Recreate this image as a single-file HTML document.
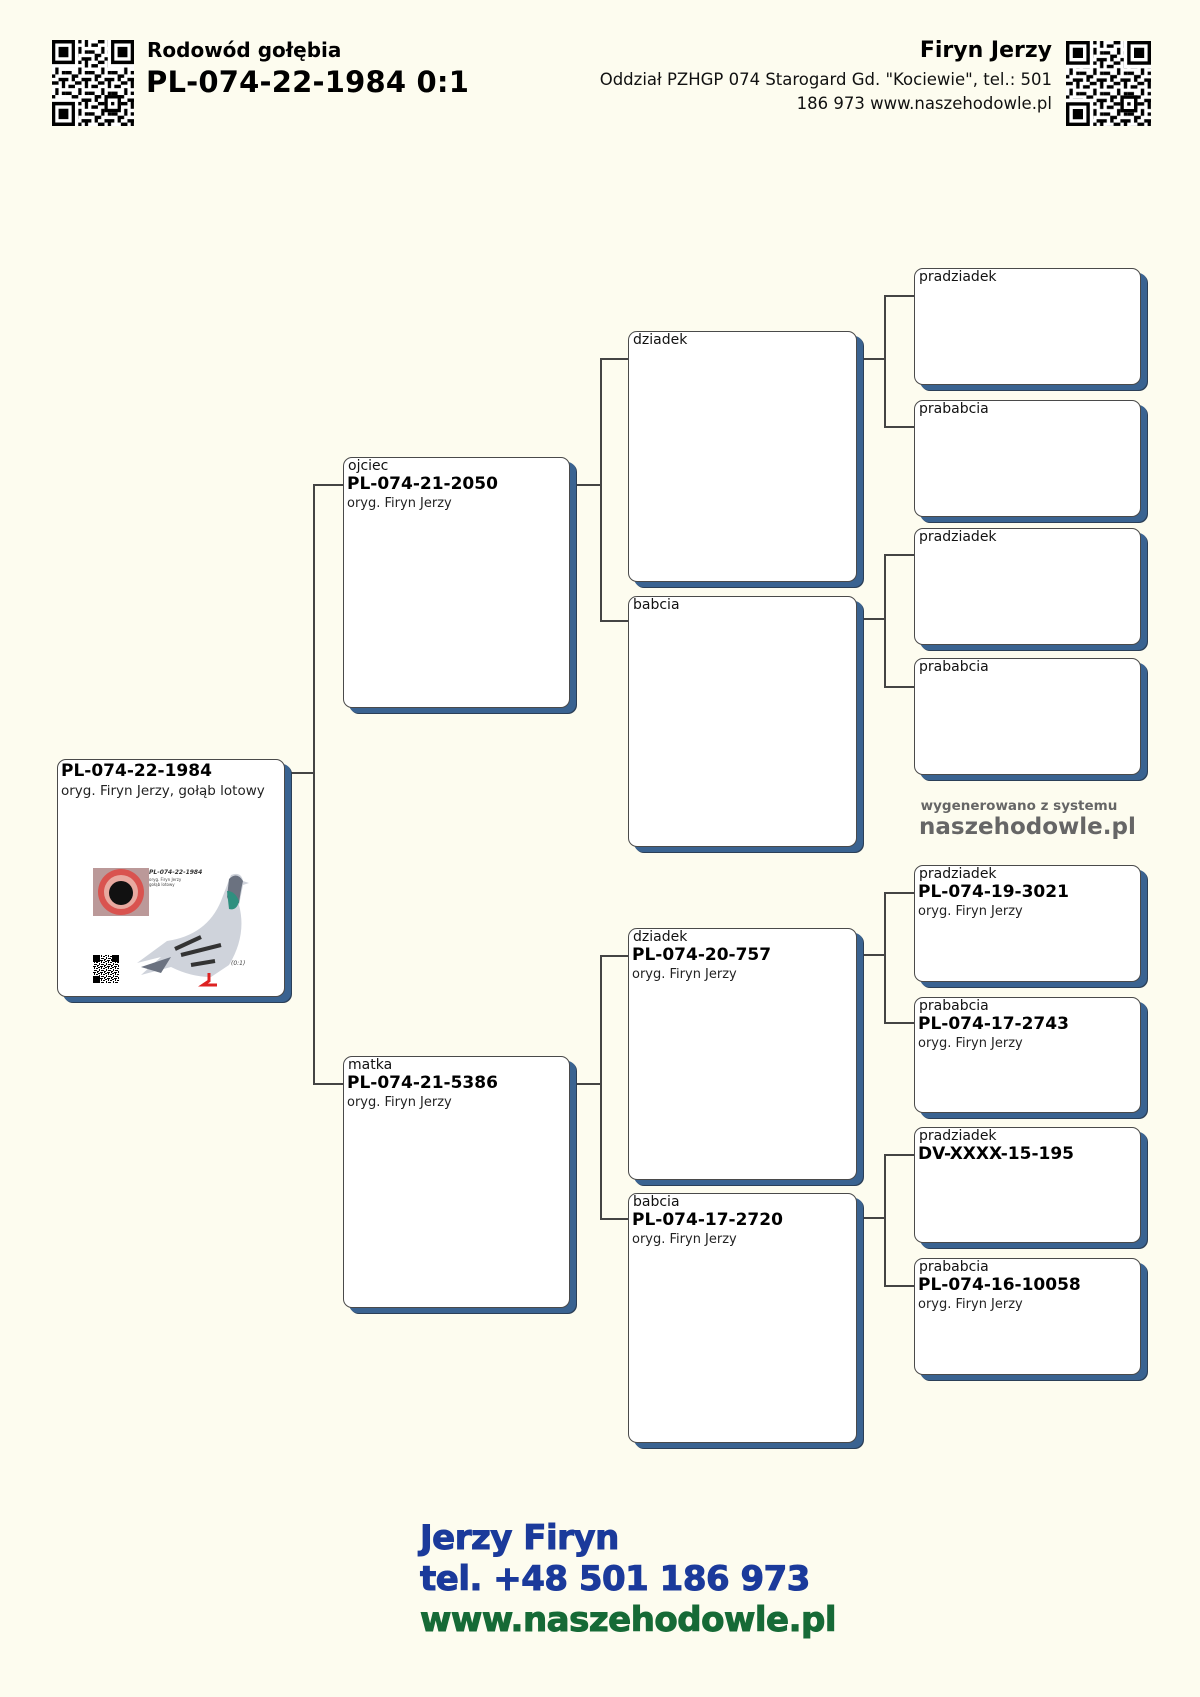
<!DOCTYPE html>
<html><head><meta charset="utf-8">
<style>
*{margin:0;padding:0;box-sizing:border-box}
body{width:1200px;height:1697px;background:#fdfcef;position:relative;overflow:hidden;font-family:"DejaVu Sans","Liberation Sans",sans-serif;color:#000}
.b{position:absolute;background:#fff;border:1.5px solid #4a4a4a;border-radius:9px;box-shadow:6px 5px 0 #3a6391,7px 6px 0 #2b3f57}
.l{position:absolute;background:#444}
.t{position:absolute;white-space:nowrap}
.lab{font-size:14px;line-height:15px;color:#111;padding-left:4px;padding-top:1px}
.id{font-size:17px;font-weight:bold;line-height:21px;padding-left:3px}
.or{font-size:13px;line-height:18px;color:#222;padding-left:3px}
</style></head><body>

<svg width="0" height="0" style="position:absolute">
<defs>
<pattern id="qp" width="7" height="6" patternUnits="userSpaceOnUse">
<rect x="0" y="0" width="2" height="1" fill="#000"/><rect x="3" y="0" width="1" height="2" fill="#000"/><rect x="5" y="1" width="2" height="1" fill="#000"/>
<rect x="1" y="2" width="1" height="2" fill="#000"/><rect x="4" y="3" width="2" height="1" fill="#000"/><rect x="0" y="4" width="1" height="1" fill="#000"/>
<rect x="2" y="5" width="3" height="1" fill="#000"/><rect x="6" y="4" width="1" height="2" fill="#000"/><rect x="3" y="3" width="1" height="1" fill="#000"/>
</pattern>
<g id="qr">
<rect x="0" y="0" width="25" height="25" fill="#fff"/>
<rect x="0" y="0" width="25" height="25" fill="url(#qp)"/>
<rect x="0" y="0" width="8" height="8" fill="#fff"/><rect x="17" y="0" width="8" height="8" fill="#fff"/><rect x="0" y="17" width="8" height="8" fill="#fff"/>
<path d="M0 0h7v7h-7zM1 1v5h5v-5zM2 2h3v3h-3z M18 0h7v7h-7zM19 1v5h5v-5zM20 2h3v3h-3z M0 18h7v7h-7zM1 19v5h5v-5zM2 20h3v3h-3z" fill="#000" fill-rule="evenodd"/>
<rect x="16" y="16" width="5" height="5" fill="#000"/><rect x="17" y="17" width="3" height="3" fill="#fff"/><rect x="18" y="18" width="1" height="1" fill="#000"/>
</g>
</defs></svg>

<!-- header -->
<svg style="position:absolute;left:52px;top:40px" width="82" height="86" viewBox="0 0 25 25" preserveAspectRatio="none"><use href="#qr"/></svg>
<div class="t" style="left:147px;top:38px;font-size:20px;font-weight:bold">Rodowód gołębia</div>
<div class="t" style="left:146px;top:65px;font-size:29px;font-weight:bold;letter-spacing:0.2px">PL-074-22-1984 0:1</div>

<div class="t" style="right:148px;top:38px;font-size:22px;font-weight:bold;text-align:right">Firyn Jerzy</div>
<div class="t" style="right:148px;top:68px;font-size:16.5px;line-height:24px;text-align:right;color:#111">Oddział PZHGP 074 Starogard Gd. "Kociewie", tel.: 501<br>186 973 www.naszehodowle.pl</div>
<svg style="position:absolute;left:1066px;top:41px" width="85" height="85" viewBox="0 0 25 25" preserveAspectRatio="none"><use href="#qr"/></svg>

<!-- connectors -->
<div class="l" style="left:285px;top:772px;width:29px;height:1.5px"></div>
<div class="l" style="left:313px;top:484px;width:1.5px;height:600px"></div>
<div class="l" style="left:313px;top:484px;width:30px;height:1.5px"></div>
<div class="l" style="left:313px;top:1083px;width:30px;height:1.5px"></div>

<div class="l" style="left:570px;top:484px;width:31px;height:1.5px"></div>
<div class="l" style="left:600px;top:358px;width:1.5px;height:263px"></div>
<div class="l" style="left:600px;top:358px;width:28px;height:1.5px"></div>
<div class="l" style="left:600px;top:620px;width:28px;height:1.5px"></div>
<div class="l" style="left:570px;top:1083px;width:31px;height:1.5px"></div>
<div class="l" style="left:600px;top:955px;width:1.5px;height:264px"></div>
<div class="l" style="left:600px;top:955px;width:28px;height:1.5px"></div>
<div class="l" style="left:600px;top:1218px;width:28px;height:1.5px"></div>

<div class="l" style="left:857px;top:358px;width:28px;height:1.5px"></div>
<div class="l" style="left:884px;top:295px;width:1.5px;height:132px"></div>
<div class="l" style="left:884px;top:295px;width:30px;height:1.5px"></div>
<div class="l" style="left:884px;top:426px;width:30px;height:1.5px"></div>
<div class="l" style="left:857px;top:618px;width:28px;height:1.5px"></div>
<div class="l" style="left:884px;top:554px;width:1.5px;height:133px"></div>
<div class="l" style="left:884px;top:554px;width:30px;height:1.5px"></div>
<div class="l" style="left:884px;top:686px;width:30px;height:1.5px"></div>
<div class="l" style="left:857px;top:954px;width:28px;height:1.5px"></div>
<div class="l" style="left:884px;top:892px;width:1.5px;height:131px"></div>
<div class="l" style="left:884px;top:892px;width:30px;height:1.5px"></div>
<div class="l" style="left:884px;top:1022px;width:30px;height:1.5px"></div>
<div class="l" style="left:857px;top:1217px;width:28px;height:1.5px"></div>
<div class="l" style="left:884px;top:1154px;width:1.5px;height:132px"></div>
<div class="l" style="left:884px;top:1154px;width:30px;height:1.5px"></div>
<div class="l" style="left:884px;top:1285px;width:30px;height:1.5px"></div>

<!-- main -->
<div class="b" style="left:57px;top:759px;width:228px;height:238px">
<div class="id" style="padding-top:1px">PL-074-22-1984</div>
<div class="or" style="font-size:13.5px">oryg. Firyn Jerzy, gołąb lotowy</div>
<svg style="position:absolute;left:33px;top:105px" width="164" height="124" viewBox="0 0 164 124">
<rect width="164" height="124" fill="#fff"/>
<rect x="2" y="3" width="56" height="48" fill="#b99"/>
<circle cx="30" cy="27" r="23" fill="#d9534f"/>
<circle cx="30" cy="27" r="17" fill="#e8a9a0"/>
<circle cx="30" cy="28" r="12" fill="#111"/>
<text x="58" y="9" font-size="6" font-style="italic" font-weight="bold" fill="#333" font-family="DejaVu Sans">PL-074-22-1984</text>
<text x="58" y="16" font-size="4" fill="#444" font-family="DejaVu Sans">oryg. Firyn Jerzy</text>
<text x="58" y="21" font-size="4" fill="#444" font-family="DejaVu Sans">gołąb lotowy</text>
<path d="M140 10 q10 -4 12 6 l6 2 -6 2 q-2 10 -4 20 q8 30 -10 60 l-18 12 q-20 0 -40 -10 l-30 8 l20 -18 l-24 6 l30 -22 q40 -6 54 -40 z" fill="#cfd3db"/>
<path d="M138 14 q8 -8 14 2 q-2 8 -4 22 q-8 4 -12 -6 z" fill="#6b7280"/>
<path d="M136 26 q8 0 12 10 q-2 10 -10 8 z" fill="#2f8f7f"/>
<path d="M90 90 l40 -10 M84 84 l26 -12 M100 100 l24 -4" stroke="#333" stroke-width="4"/>
<path d="M50 102 l30 -10 l-10 16 z" fill="#6b7280"/>
<path d="M118 108 v8 l-6 4 h14" stroke="#d22" stroke-width="3" fill="none"/>
<rect x="2" y="90" width="26" height="28" fill="url(#qp)"/>
<rect x="2" y="90" width="7" height="7" fill="#000"/><rect x="21" y="90" width="7" height="7" fill="#000"/><rect x="2" y="111" width="7" height="7" fill="#000"/>
<text x="140" y="100" font-size="6" font-style="italic" fill="#444" font-family="DejaVu Sans">(0:1)</text>
</svg>
</div>

<!-- gen1 -->
<div class="b" style="left:343px;top:457px;width:227px;height:251px"><div class="lab">ojciec</div><div class="id">PL-074-21-2050</div><div class="or">oryg. Firyn Jerzy</div></div>
<div class="b" style="left:343px;top:1056px;width:227px;height:252px"><div class="lab">matka</div><div class="id">PL-074-21-5386</div><div class="or">oryg. Firyn Jerzy</div></div>

<!-- gen2 -->
<div class="b" style="left:628px;top:331px;width:229px;height:251px"><div class="lab">dziadek</div></div>
<div class="b" style="left:628px;top:596px;width:229px;height:251px"><div class="lab">babcia</div></div>
<div class="b" style="left:628px;top:928px;width:229px;height:252px"><div class="lab">dziadek</div><div class="id">PL-074-20-757</div><div class="or">oryg. Firyn Jerzy</div></div>
<div class="b" style="left:628px;top:1193px;width:229px;height:250px"><div class="lab">babcia</div><div class="id">PL-074-17-2720</div><div class="or">oryg. Firyn Jerzy</div></div>

<!-- gen3 -->
<div class="b" style="left:914px;top:268px;width:227px;height:117px"><div class="lab">pradziadek</div></div>
<div class="b" style="left:914px;top:400px;width:227px;height:117px"><div class="lab">prababcia</div></div>
<div class="b" style="left:914px;top:528px;width:227px;height:117px"><div class="lab">pradziadek</div></div>
<div class="b" style="left:914px;top:658px;width:227px;height:117px"><div class="lab">prababcia</div></div>
<div class="b" style="left:914px;top:865px;width:227px;height:117px"><div class="lab">pradziadek</div><div class="id">PL-074-19-3021</div><div class="or">oryg. Firyn Jerzy</div></div>
<div class="b" style="left:914px;top:997px;width:227px;height:116px"><div class="lab">prababcia</div><div class="id">PL-074-17-2743</div><div class="or">oryg. Firyn Jerzy</div></div>
<div class="b" style="left:914px;top:1127px;width:227px;height:116px"><div class="lab">pradziadek</div><div class="id">DV-XXXX-15-195</div></div>
<div class="b" style="left:914px;top:1258px;width:227px;height:117px"><div class="lab">prababcia</div><div class="id">PL-074-16-10058</div><div class="or">oryg. Firyn Jerzy</div></div>

<!-- watermark -->
<div class="t" style="left:919px;width:200px;text-align:center;top:798px;font-size:13.5px;font-weight:bold;color:#666">wygenerowano z systemu</div>
<div class="t" style="left:919px;width:200px;text-align:center;top:814px;font-size:23px;font-weight:bold;color:#666">naszehodowle.pl</div>

<!-- footer -->
<div class="t" style="left:420px;top:1518px;font-family:'DejaVu Sans',sans-serif;font-weight:bold;font-size:34px;line-height:41px;letter-spacing:-0.5px;-webkit-text-stroke:1px currentColor">
<div style="color:#1b3a9b">Jerzy Firyn</div>
<div style="color:#1b3a9b">tel. +48 501 186 973</div>
<div style="color:#166a36">www.naszehodowle.pl</div>
</div>
</body></html>
